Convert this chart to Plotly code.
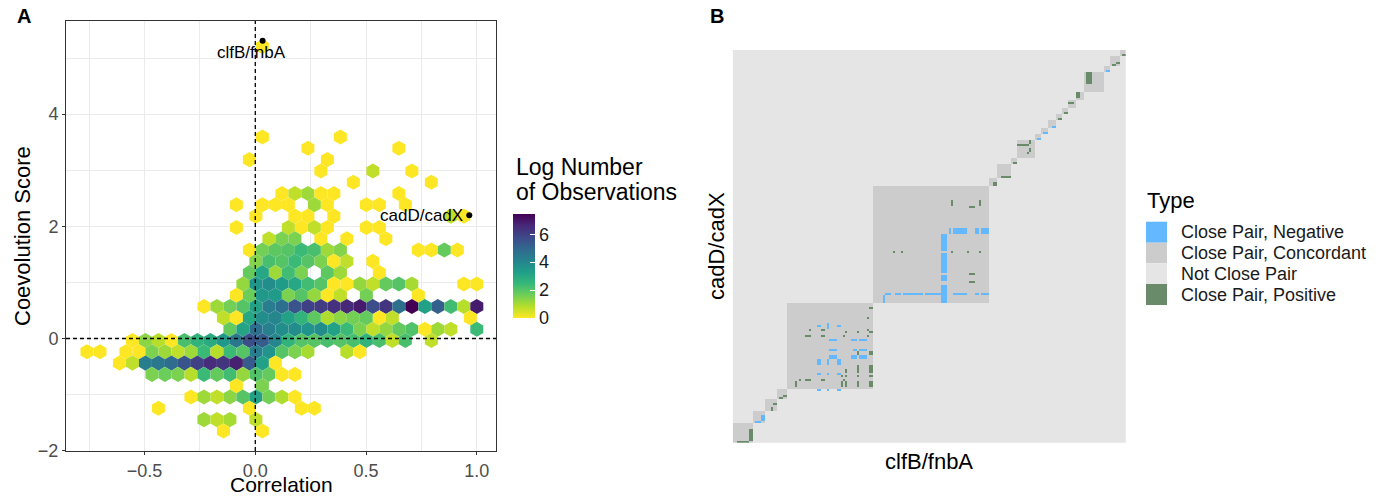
import plotly.graph_objects as go
from plotly.colors import sample_colorscale

W, H = 1376, 496
FONT = "Liberation Sans, Arial, Helvetica, sans-serif"


def fx(p):
    """pixel column -> paper x"""
    return p / W


def fy(p):
    """pixel row -> paper y"""
    return 1 - p / H


# ---------------------------------------------------------------------------
# Panel A: hexagonal bins of (Correlation, Coevolution Score)
# Bin grid: hex rows are BIN_DY apart, every row is offset by half a bin,
# so a hex column index counts half-bin steps from BIN_X0.
# ---------------------------------------------------------------------------
BIN_DX = 0.05867
BIN_DY = 0.2015
BIN_X0 = -0.76
BIN_Y0 = -1.647
LOG_MAX = 7.45

X_RANGE = [-0.8546, 1.0867]
Y_RANGE = [-2.005, 5.66]

bin_row = [
    34,
    26, 26,
    25, 25,
    24, 24,
    23, 23, 23,
    22, 22,
    21, 21, 21, 21, 21, 21,
    20, 20, 20, 20, 20, 20, 20, 20, 20,
    19, 19, 19, 19, 19, 19,
    18, 18, 18, 18, 18, 18, 18,
    17, 17, 17, 17, 17, 17,
    16, 16, 16, 16, 16, 16, 16, 16, 16, 16, 16, 16,
    15, 15, 15, 15, 15, 15, 15, 15, 15,
    14, 14, 14, 14, 14, 14, 14, 14,
    13, 13, 13, 13, 13, 13, 13, 13, 13, 13, 13, 13, 13, 13, 13, 13,
    12, 12, 12, 12, 12, 12, 12, 12, 12, 12, 12,
    11, 11, 11, 11, 11, 11, 11, 11, 11, 11, 11, 11, 11, 11, 11, 11, 11, 11, 11, 11, 11, 11,
    10, 10, 10, 10, 10, 10, 10, 10, 10, 10, 10, 10, 10, 10, 10,
    9, 9, 9, 9, 9, 9, 9, 9, 9, 9, 9, 9, 9, 9, 9, 9, 9, 9, 9,
    8, 8, 8, 8, 8, 8, 8, 8, 8, 8, 8, 8, 8, 8, 8, 8, 8, 8, 8, 8, 8, 8, 8,
    7, 7, 7, 7, 7, 7, 7, 7, 7, 7, 7, 7, 7, 7, 7, 7, 7, 7, 7,
    6, 6, 6, 6, 6, 6, 6, 6, 6, 6, 6, 6, 6,
    5, 5, 5, 5, 5, 5, 5, 5, 5, 5, 5, 5,
    4, 4,
    3, 3, 3, 3, 3, 3, 3, 3, 3,
    2, 2, 2, 2,
    1, 1, 1, 1,
    0, 0,
]

bin_col = [
    27,
    27, 39,
    34, 48,
    25, 37,
    36, 44, 50,
    41, 53,
    30, 32, 34, 36, 38, 48,
    23, 27, 29, 31, 35, 37, 43, 45, 49,
    26, 32, 34, 38, 56, 58,
    23, 31, 33, 35, 37, 43, 45,
    28, 30, 32, 36, 40, 46,
    25, 27, 29, 31, 33, 35, 37, 39, 51, 53, 55, 57,
    26, 28, 30, 32, 34, 36, 38, 40, 44,
    25, 27, 29, 31, 33, 37, 39, 45,
    24, 26, 28, 30, 32, 34, 36, 38, 40, 42, 44, 46, 48, 50, 58, 60,
    23, 25, 27, 29, 31, 33, 35, 37, 39, 43, 51,
    18, 20, 22, 24, 26, 28, 30, 32, 34, 36, 38, 40, 42, 44, 46, 48, 50, 52, 54, 56, 58, 60,
    21, 23, 25, 27, 29, 31, 33, 35, 37, 39, 41, 43, 45, 47, 59,
    22, 24, 26, 28, 30, 32, 34, 36, 38, 40, 42, 44, 46, 48, 50, 52, 54, 56, 60,
    7, 9, 11, 13, 15, 17, 19, 21, 23, 25, 27, 29, 31, 33, 35, 37, 39, 41, 43, 45, 47, 49, 53,
    0, 2, 6, 8, 10, 12, 14, 16, 18, 20, 22, 24, 26, 28, 30, 32, 34, 40, 42,
    5, 7, 9, 11, 13, 15, 17, 19, 21, 23, 25, 27, 29,
    10, 12, 14, 16, 18, 20, 22, 24, 26, 28, 30, 32,
    23, 27,
    16, 18, 20, 22, 24, 26, 28, 30, 32,
    11, 25, 33, 35,
    18, 20, 22, 26,
    21, 27,
]

log_count = [
    0,
    0, 0,
    0, 0,
    0, 0,
    0, 0.7, 0,
    0, 0,
    0, 0.7, 1.1, 0, 0, 0,
    0, 0, 0, 0, 1.1, 0, 0, 0, 0,
    0, 0, 0, 0, 0.7, 0,
    0, 0.7, 0, 0.7, 0, 0, 0,
    0.7, 1.5, 1.5, 0, 0, 0,
    0, 1.6, 1.9, 2.0, 2.4, 2.2, 1.1, 1.4, 0, 0, 1.8, 0,
    1.4, 2.2, 2.0, 2.4, 2.0, 1.5, 0, 0.7, 0,
    1.8, 3.0, 1.1, 2.3, 1.5, 1.9, 1.1, 0,
    1.2, 3.6, 3.8, 3.4, 3.0, 2.3, 2.0, 0, 0, 1.2, 0.7, 1.8, 2.0, 1.0, 0, 0,
    0, 1.7, 3.5, 3.4, 1.5, 2.0, 1.2, 0, 0.7, 1.6, 0,
    0, 1.1, 1.6, 2.0, 3.2, 4.3, 4.7, 5.5, 6.0, 6.1, 6.4, 6.6, 6.9, 5.7, 6.3, 4.7, 7.45, 3.2, 5.2, 2.3, 0.8, 6.9,
    0.7, 0, 3.0, 3.8, 4.0, 3.2, 2.6, 1.9, 0.9, 1.3, 1.6, 1.8, 0, 0.7, 0,
    1.8, 3.1, 4.7, 4.2, 3.8, 3.8, 3.6, 3.8, 3.2, 2.4, 1.5, 0.7, 1.2, 1.8, 2.1, 0, 1.1, 0.7, 2.4,
    0, 1.3, 0.8, 0, 2.2, 2.6, 2.9, 3.5, 4.5, 5.6, 5.3, 4.0, 2.6, 2.0, 2.0, 2.2, 2.0, 2.2, 2.6, 2.2, 0.7, 2.2, 0.7,
    0, 0, 0, 0, 1.5, 1.1, 0.7, 1.1, 2.4, 0.8, 2.4, 2.0, 4.3, 3.6, 2.0, 1.5, 1.0, 0.8, 0,
    0, 0.7, 4.3, 4.5, 4.8, 5.5, 6.0, 6.5, 6.3, 6.8, 5.3, 3.2, 0,
    1.5, 1.7, 1.5, 0.8, 2.4, 1.8, 2.3, 1.2, 2.1, 1.8, 0, 0,
    0, 1.5,
    0, 1.1, 0.7, 1.3, 2.0, 3.2, 1.6, 0.9, 0,
    0, 0, 0, 0,
    1.1, 0.7, 1.0, 0.7,
    0, 0,
]

assert len(bin_row) == len(bin_col) == len(log_count)

# labelled gene pairs
pair_names = ["clfB/fnbA", "cadD/cadX"]
pair_corr = [0.033, 0.966]
pair_score = [5.31, 2.196]

# ---------------------------------------------------------------------------
# Panel B: gene-by-gene pair classification matrix
# ---------------------------------------------------------------------------
N_GENES = 196
type_names = ["Close Pair, Negative", "Close Pair, Concordant",
              "Not Close Pair", "Close Pair, Positive"]
type_colors = ["#63B8FF", "#CCCCCC", "#E5E5E5", "#698B69"]

# runs of neighbouring genes (start, end) forming close-pair groups
group_start = [0, 10, 16, 22, 27, 70, 128, 132, 139, 142, 151, 154, 157,
               161, 164, 167, 171, 175, 185, 188, 193]
group_end = [10, 16, 22, 27, 70, 128, 132, 139, 142, 151, 154, 157, 161,
             164, 167, 171, 175, 185, 188, 193, 196]

# (col_start, col_end, row_start, row_end) runs of negative pairs
negative_runs = [
    (11, 14, 10, 11), (14, 16, 11, 14),
    (42, 44, 58, 59), (47, 48, 57, 60), (52, 54, 58, 59),
    (48, 52, 51, 52), (59, 62, 51, 52), (63, 67, 51, 52),
    (48, 52, 46, 47), (60, 62, 46, 47), (63, 67, 46, 47),
    (48, 52, 42, 44), (59, 62, 42, 44), (63, 67, 42, 44),
    (42, 44, 39, 42), (47, 48, 39, 42), (52, 54, 39, 42),
    (42, 44, 34, 35), (47, 48, 34, 35), (52, 54, 34, 35),
    (42, 44, 26, 27), (47, 48, 26, 27), (52, 54, 26, 27),
    (108, 109, 104, 107), (110, 117, 104, 107), (121, 123, 104, 107),
    (124, 128, 104, 107),
    (104, 107, 96, 104), (104, 107, 85, 95), (104, 107, 81, 84),
    (104, 107, 70, 79),
    (76, 79, 74, 75), (81, 84, 74, 75), (85, 95, 74, 75), (96, 104, 74, 75),
    (110, 117, 74, 75), (121, 123, 74, 75), (124, 128, 74, 75),
    (75, 76, 70, 74),
    (152, 154, 151, 152), (155, 157, 154, 155), (159, 161, 157, 158),
    (186, 188, 185, 186),
]

# (col_start, col_end, row_start, row_end) runs of positive pairs
positive_runs = [
    (8, 10, 1, 7), (2, 8, 0, 1), (20, 22, 19, 20), (19, 20, 16, 18),
    (25, 27, 23, 24), (23, 25, 22, 23),
    (68, 70, 67, 68), (67, 68, 62, 63), (38, 39, 56, 57), (44, 46, 56, 57),
    (56, 57, 55, 56), (62, 63, 55, 56), (67, 68, 56, 57), (68, 70, 55, 56),
    (36, 39, 53, 54), (44, 46, 53, 54), (55, 56, 53, 54), (67, 68, 53, 54),
    (62, 63, 44, 46), (68, 70, 44, 46), (56, 57, 35, 37), (62, 63, 35, 39),
    (68, 70, 35, 39), (54, 55, 33, 34), (56, 57, 33, 34), (62, 63, 33, 34),
    (68, 70, 33, 34), (55, 56, 31, 32), (33, 34, 31, 32), (36, 39, 31, 32),
    (44, 46, 31, 32), (31, 32, 28, 31), (54, 55, 28, 31), (56, 57, 28, 31),
    (62, 63, 28, 31), (68, 70, 28, 31),
    (80, 81, 95, 96), (84, 85, 95, 96), (109, 110, 95, 96), (117, 118, 95, 96),
    (123, 124, 95, 96), (118, 121, 84, 85), (118, 121, 80, 81),
    (109, 110, 118, 121), (118, 121, 117, 118), (123, 124, 118, 121),
    (130, 132, 128, 130), (134, 139, 132, 133), (140, 142, 139, 140),
    (142, 148, 148, 149), (148, 149, 149, 151), (148, 149, 145, 147),
    (147, 148, 144, 145), (162, 164, 161, 162), (165, 167, 164, 165),
    (167, 170, 169, 170), (171, 173, 172, 175), (176, 179, 179, 185),
    (189, 191, 188, 189), (191, 193, 189, 190), (194, 196, 193, 194),
]

# ---------------------------------------------------------------------------
# Build figure
# ---------------------------------------------------------------------------
fig = go.Figure()
shapes = []
annotations = []

# hexagon geometry in data units (pointy-top hexagons)
half_w = BIN_DX / 2
rad = BIN_DY * 2 / 3

hex_x = [BIN_X0 + c * BIN_DX / 2 for c in bin_col]
hex_y = [BIN_Y0 + r * BIN_DY for r in bin_row]
hex_fill = sample_colorscale("Viridis", [1 - v / LOG_MAX for v in log_count])

for cx, cy, col in zip(hex_x, hex_y, hex_fill):
    path = (f"M {cx:.5f},{cy + rad:.5f} L {cx + half_w:.5f},{cy + rad / 2:.5f} "
            f"L {cx + half_w:.5f},{cy - rad / 2:.5f} L {cx:.5f},{cy - rad:.5f} "
            f"L {cx - half_w:.5f},{cy - rad / 2:.5f} L {cx - half_w:.5f},{cy + rad / 2:.5f} Z")
    shapes.append(dict(type="path", path=path, xref="x", yref="y",
                       fillcolor=col, line=dict(width=0), layer="between"))

# invisible markers carrying the colour scale
fig.add_trace(go.Scatter(
    x=hex_x, y=hex_y, mode="markers", hoverinfo="skip", showlegend=False,
    marker=dict(size=0, color=log_count, colorscale="Viridis", reversescale=True,
                cmin=0, cmax=LOG_MAX,
                colorbar=dict(x=fx(513), xanchor="left", y=fy(318), yanchor="bottom",
                              len=104 / H, lenmode="fraction", thickness=22,
                              xpad=0, ypad=0, outlinewidth=0,
                              tickvals=[0, 2, 4, 6], ticks="inside", ticklen=5,
                              tickcolor="white", tickwidth=1,
                              tickfont=dict(family=FONT, size=18, color="#1A1A1A"))),
    xaxis="x", yaxis="y"))

# reference lines at zero
dash = dict(color="black", width=1.3, dash="4px,3px")
fig.add_trace(go.Scatter(x=[0, 0], y=Y_RANGE, mode="lines", line=dash, hoverinfo="skip",
                         showlegend=False, xaxis="x", yaxis="y"))
fig.add_trace(go.Scatter(x=X_RANGE, y=[0, 0], mode="lines", line=dash, hoverinfo="skip",
                         showlegend=False, xaxis="x", yaxis="y"))

# labelled pairs
fig.add_trace(go.Scatter(x=pair_corr, y=pair_score, mode="markers", hoverinfo="skip",
                         showlegend=False, marker=dict(size=6, color="black"),
                         xaxis="x", yaxis="y"))
annotations.append(dict(x=pair_corr[0], y=pair_score[0], xref="x", yref="y",
                        text=pair_names[0], showarrow=False, xanchor="center",
                        yanchor="middle", xshift=-11, yshift=-12,
                        font=dict(family=FONT, size=17, color="black")))
annotations.append(dict(x=pair_corr[1], y=pair_score[1], xref="x", yref="y",
                        text=pair_names[1], showarrow=False, xanchor="right",
                        yanchor="middle", xshift=-4, yshift=0,
                        font=dict(family=FONT, size=17, color="black")))

# matrix panel
mat = [[2] * N_GENES for _ in range(N_GENES)]
for s, e in zip(group_start, group_end):
    for r in range(s, e):
        for c in range(s, e):
            mat[r][c] = 1
for code, runs in ((0, negative_runs), (3, positive_runs)):
    for c0, c1, r0, r1 in runs:
        for r in range(r0, r1):
            for c in range(c0, c1):
                mat[r][c] = code

disc_scale = []
for i, col in enumerate(type_colors):
    disc_scale.append([i / 4, col])
    disc_scale.append([(i + 1) / 4, col])

fig.add_trace(go.Heatmap(z=mat, x=list(range(N_GENES)), y=list(range(N_GENES)),
                         colorscale=disc_scale, zmin=-0.5, zmax=3.5, showscale=False,
                         hoverinfo="skip", xaxis="x2", yaxis="y2"))

# legend for the matrix types
key_top = [221.7, 242.7, 263.3, 284.0]
key_bot = [242.7, 263.3, 284.0, 305.0]
for name, col, t, b in zip(type_names, type_colors, key_top, key_bot):
    shapes.append(dict(type="rect", xref="paper", yref="paper", x0=fx(1146), x1=fx(1167),
                       y0=fy(b), y1=fy(t), fillcolor=col, line=dict(width=0),
                       layer="above"))
    annotations.append(dict(x=fx(1179), y=fy((t + b) / 2), xref="paper", yref="paper",
                            text=name, showarrow=False, xanchor="left", yanchor="middle",
                            font=dict(family=FONT, size=18, color="#1A1A1A")))
annotations.append(dict(x=fx(1145), y=fy(200), xref="paper", yref="paper", text="Type",
                        showarrow=False, xanchor="left", yanchor="middle",
                        font=dict(family=FONT, size=22, color="black")))

# colour bar title
annotations.append(dict(x=fx(514), y=fy(167), xref="paper", yref="paper", text="Log Number",
                        showarrow=False, xanchor="left", yanchor="middle",
                        font=dict(family=FONT, size=23, color="black")))
annotations.append(dict(x=fx(514), y=fy(192), xref="paper", yref="paper",
                        text="of Observations", showarrow=False, xanchor="left",
                        yanchor="middle", font=dict(family=FONT, size=23, color="black")))

# axis titles and panel tags
annotations += [
    dict(x=fx(281), y=fy(484), xref="paper", yref="paper", text="Correlation",
         showarrow=False, xanchor="center", yanchor="middle",
         font=dict(family=FONT, size=21, color="black")),
    dict(x=fx(22), y=fy(236), xref="paper", yref="paper", text="Coevolution Score",
         showarrow=False, xanchor="center", yanchor="middle", textangle=-90,
         font=dict(family=FONT, size=22, color="black")),
    dict(x=fx(929), y=fy(461), xref="paper", yref="paper", text="clfB/fnbA",
         showarrow=False, xanchor="center", yanchor="middle",
         font=dict(family=FONT, size=22, color="black")),
    dict(x=fx(716), y=fy(246), xref="paper", yref="paper", text="cadD/cadX",
         showarrow=False, xanchor="center", yanchor="middle", textangle=-90,
         font=dict(family=FONT, size=22, color="black")),
    dict(x=fx(24), y=fy(16), xref="paper", yref="paper", text="<b>A</b>",
         showarrow=False, xanchor="center", yanchor="middle",
         font=dict(family=FONT, size=20, color="black")),
    dict(x=fx(717), y=fy(16), xref="paper", yref="paper", text="<b>B</b>",
         showarrow=False, xanchor="center", yanchor="middle",
         font=dict(family=FONT, size=20, color="black")),
]

grid = "#EBEBEB"
axis_common = dict(showline=True, mirror=True, linecolor="#333333", linewidth=1,
                   ticks="outside", ticklen=3, tickcolor="#333333", tickwidth=1,
                   showgrid=True, gridcolor=grid, gridwidth=1.1, zeroline=False,
                   tickfont=dict(family=FONT, size=18, color="#4D4D4D"))

fig.update_layout(
    width=W, height=H, margin=dict(l=0, r=0, t=0, b=0, autoexpand=False),
    paper_bgcolor="white", plot_bgcolor="white", showlegend=False,
    xaxis=dict(domain=[fx(66), fx(496)], range=X_RANGE, anchor="y",
               tickvals=[-0.5, 0, 0.5, 1.0], ticktext=["\u22120.5", "0.0", "0.5", "1.0"],
               minor=dict(tickvals=[-0.75, -0.25, 0.25, 0.75], showgrid=True,
                          gridcolor=grid, gridwidth=0.6, ticks=""),
               **axis_common),
    yaxis=dict(domain=[fy(451), fy(21)], range=Y_RANGE, anchor="x",
               tickvals=[-2, 0, 2, 4], ticktext=["\u22122", "0", "2", "4"],
               minor=dict(tickvals=[-1, 1, 3, 5], showgrid=True,
                          gridcolor=grid, gridwidth=0.6, ticks=""),
               **axis_common),
    xaxis2=dict(domain=[fx(732.7), fx(1126)], range=[-0.5, N_GENES - 0.5], anchor="y2",
                showticklabels=False, ticks="", showgrid=False, zeroline=False,
                showline=False),
    yaxis2=dict(domain=[fy(442.7), fy(50)], range=[-0.5, N_GENES - 0.5], anchor="x2",
                showticklabels=False, ticks="", showgrid=False, zeroline=False,
                showline=False),
    shapes=shapes,
    annotations=annotations,
)

fig.write_html("out.html")
